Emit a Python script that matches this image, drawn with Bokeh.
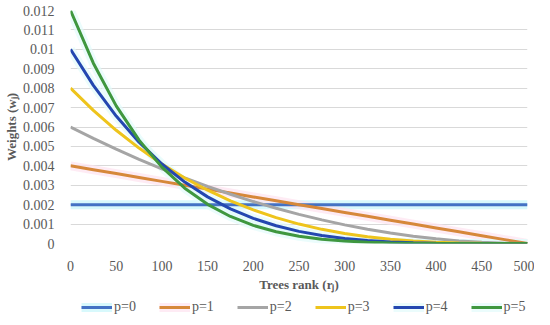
from bokeh.plotting import figure
from bokeh.layouts import column
from bokeh.models import Legend, LegendItem, Range1d, FixedTicker, CustomJSTickFormatter
from bokeh.embed import file_html
from bokeh.resources import INLINE

# Tree rank positions (x)
ranks = [0, 25, 50, 75, 100, 125, 150, 175, 200, 225, 250,
         275, 300, 325, 350, 375, 400, 425, 450, 475, 500]

# Weights, one list per series
w_p0 = [0.002] * 21
w_p1 = [0.004, 0.0038, 0.0036, 0.0034, 0.0032, 0.003, 0.0028, 0.0026, 0.0024, 0.0022, 0.002,
        0.0018, 0.0016, 0.0014, 0.0012, 0.001, 0.0008, 0.0006, 0.0004, 0.0002, 0.0]
w_p2 = [0.006, 0.005415, 0.00486, 0.004335, 0.00384, 0.003375, 0.00294, 0.002535, 0.00216, 0.001815, 0.0015,
        0.001215, 0.00096, 0.000735, 0.00054, 0.000375, 0.00024, 0.000135, 0.00006, 0.000015, 0.0]
w_p3 = [0.008, 0.006859, 0.005832, 0.004913, 0.004096, 0.003375, 0.002744, 0.002197, 0.001728, 0.001331, 0.001,
        0.000729, 0.000512, 0.000343, 0.000216, 0.000125, 0.000064, 0.000027, 0.000008, 0.000001, 0.0]
w_p4 = [0.01, 0.008145, 0.006561, 0.00522, 0.004096, 0.003164, 0.002401, 0.001785, 0.001296, 0.000915, 0.000625,
        0.00041, 0.000256, 0.00015, 0.000081, 0.000039, 0.000016, 0.000005, 0.000001, 0.0, 0.0]
w_p5 = [0.012, 0.009285, 0.007086, 0.005324, 0.003932, 0.002848, 0.002017, 0.001392, 0.000933, 0.000604, 0.000375,
        0.000221, 0.000123, 0.000063, 0.000029, 0.000012, 0.000004, 0.000001, 0.0, 0.0, 0.0]

series_names = ["p=0", "p=1", "p=2", "p=3", "p=4", "p=5"]
series_values = [w_p0, w_p1, w_p2, w_p3, w_p4, w_p5]

x_ticks = [0, 50, 100, 150, 200, 250, 300, 350, 400, 450, 500]
y_ticks = [0, 0.001, 0.002, 0.003, 0.004, 0.005, 0.006, 0.007, 0.008, 0.009, 0.01, 0.011, 0.012]

colors = ["#4472C4", "#D6883A", "#A5A5A5", "#EEC41C", "#2447B0", "#3F973F"]
glows = ["#c8f7fb", "#fde3f0", None, None, "#e2fbfb", "#e2fbfb"]

FONT = "Liberation Serif"
TXT = "#595959"

p = figure(width=534, height=294, output_backend="svg", toolbar_location=None,
           x_range=Range1d(0, 500), y_range=Range1d(0, 0.012),
           min_border_left=62, min_border_right=7, min_border_top=10, min_border_bottom=46)
p.outline_line_color = None
p.background_fill_color = "white"
p.border_fill_color = "white"

p.xgrid.grid_line_color = None
p.ygrid.grid_line_color = "#d9d9d9"
p.ygrid.grid_line_width = 1

p.xaxis.ticker = FixedTicker(ticks=x_ticks)
p.yaxis.ticker = FixedTicker(ticks=y_ticks)
p.yaxis.formatter = CustomJSTickFormatter(code="return String(tick);")
for ax in (p.xaxis, p.yaxis):
    ax.axis_line_color = None
    ax.major_tick_line_color = None
    ax.minor_tick_line_color = None
    ax.major_label_text_font = FONT
    ax.major_label_text_font_size = "14px"
    ax.major_label_text_color = TXT
    ax.axis_label_text_font = FONT
    ax.axis_label_text_font_size = "13px"
    ax.axis_label_text_font_style = "bold"
    ax.axis_label_text_color = TXT
p.yaxis.major_label_standoff = 10
p.xaxis.major_label_standoff = 11
p.xaxis.axis_label = "Trees rank (rⱼ)"
p.yaxis.axis_label = "Weights (wⱼ)"
p.xaxis.axis_label_standoff = 3
p.yaxis.axis_label_standoff = 1

for vals, g in zip(series_values, glows):
    if g is not None:
        p.line(ranks, vals, line_color=g, line_width=9, line_alpha=0.7)
for vals, c in zip(series_values, colors):
    p.line(ranks, vals, line_color=c, line_width=3)

# Separate strip holding the legend (its lines lie outside its visible range)
lf = figure(width=534, height=21, output_backend="svg", toolbar_location=None,
            x_range=Range1d(0, 500), y_range=Range1d(1, 2),
            x_axis_location=None, y_axis_location=None,
            min_border_left=0, min_border_right=0, min_border_top=0, min_border_bottom=0)
lf.grid.visible = False
lf.outline_line_color = None
lf.border_fill_color = "white"
lf.background_fill_color = "white"

items = []
for name, vals, c, g in zip(series_names, series_values, colors, glows):
    rs = []
    if g is not None:
        rs.append(lf.line(ranks, vals, line_color=g, line_width=9, line_alpha=0.7))
    rs.append(lf.line(ranks, vals, line_color=c, line_width=3))
    items.append(LegendItem(label=name, renderers=rs))

legend = Legend(items=items, orientation="horizontal", location=(11, 0),
                label_text_font=FONT, label_text_font_size="14px", label_text_color=TXT,
                glyph_width=31, glyph_height=16, label_standoff=2, spacing=23,
                padding=0, margin=0, border_line_color=None, background_fill_alpha=0)
lf.add_layout(legend, "center")

open("out.html", "w").write(file_html(column(p, lf, spacing=0), INLINE))
